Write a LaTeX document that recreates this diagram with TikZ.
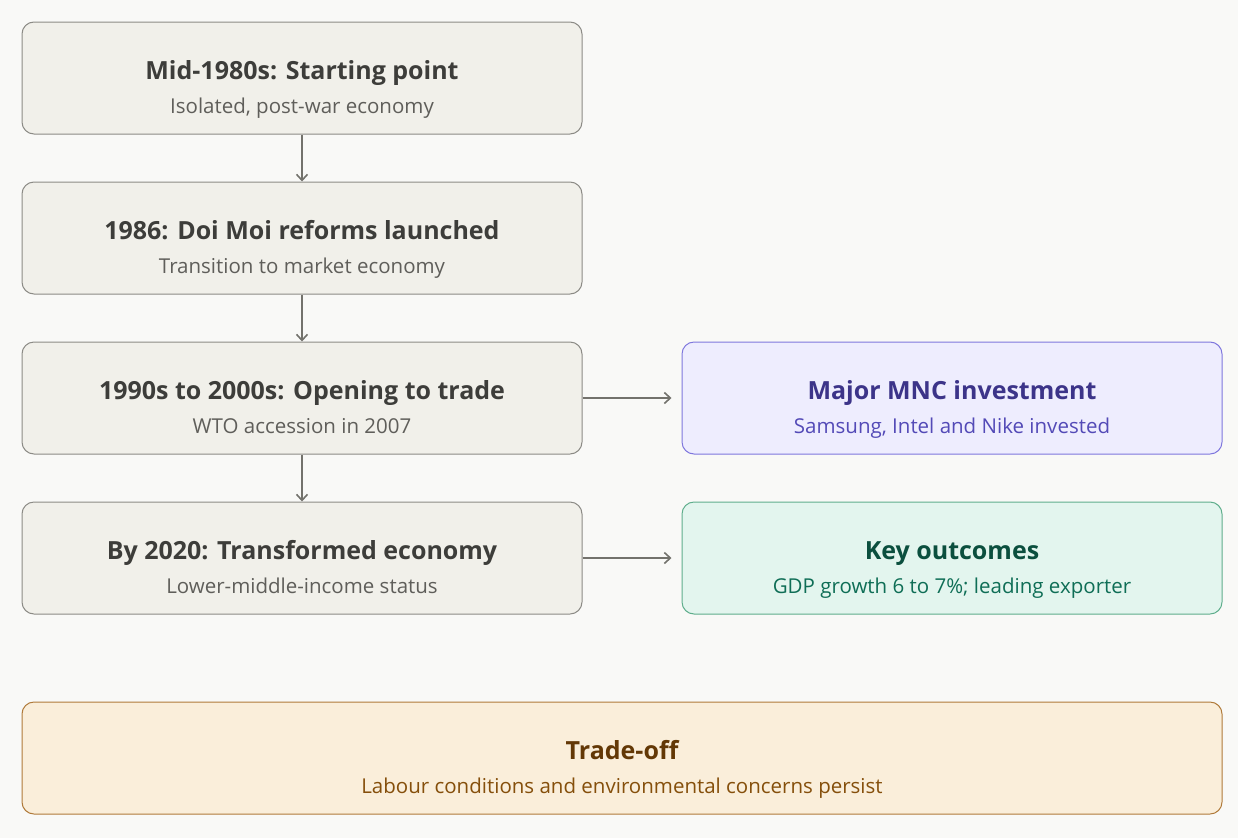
\documentclass[tikz,border=0pt]{standalone}
\usepackage{fontspec}
\setmainfont{Open Sans}
\usetikzlibrary{arrows.meta}
\definecolor{bg}{HTML}{F9F9F7}
\definecolor{gfill}{HTML}{F1F0EA}
\definecolor{gline}{HTML}{8C8B86}
\definecolor{gtit}{HTML}{3D3D3A}
\definecolor{gsub}{HTML}{5F5E5A}
\definecolor{pfill}{HTML}{EEEDFE}
\definecolor{pline}{HTML}{7F77DD}
\definecolor{ptit}{HTML}{3C3489}
\definecolor{psub}{HTML}{534AB7}
\definecolor{tfill}{HTML}{E3F5EE}
\definecolor{tline}{HTML}{5FAE8C}
\definecolor{ttit}{HTML}{0B4F3E}
\definecolor{tsub}{HTML}{0F6E56}
\definecolor{afill}{HTML}{FAEEDA}
\definecolor{aline}{HTML}{B07A3A}
\definecolor{atit}{HTML}{633806}
\definecolor{asub}{HTML}{854F0B}
\definecolor{arr}{HTML}{73726C}
\tikzset{
  box/.style={draw=gline,fill=gfill,line width=1pt,rounded corners=12pt,minimum height=112pt,inner sep=0pt},
  tit/.style={anchor=base,inner sep=0pt,font=\fontsize{25}{30}\selectfont\bfseries},
  sub/.style={anchor=base,inner sep=0pt,font=\fontsize{20.5}{24}\selectfont},
  conn/.style={draw=arr,line width=1.6pt,-{Straight Barb[length=6pt,width=11pt]}},
}
\newcommand{\bx}[6]{%
  \node[tit,text=#3] (#1t) at ([yshift=-1pt]#1.center) {#5};
  \node[sub,text=#4] (#1s) at ([yshift=-35pt]#1.center) {#6};}
\begin{document}
\begin{tikzpicture}[x=1pt,y=-1pt]
\fill[bg] (0,0) rectangle (1238,838);
\useasboundingbox (0,0) rectangle (1238,838);
\node[box,minimum width=560pt] (a) at (302,78) {};
\node[box,minimum width=560pt] (b) at (302,238) {};
\node[box,minimum width=560pt] (c) at (302,398) {};
\node[box,minimum width=560pt] (d) at (302,558) {};
\node[box,minimum width=540pt,draw=pline,fill=pfill] (e) at (952,398) {};
\node[box,minimum width=540pt,draw=tline,fill=tfill] (f) at (952,558) {};
\node[box,minimum width=1200pt,draw=aline,fill=afill] (g) at (622,758) {};
\bx{a}{}{gtit}{gsub}{Mid-1980s: Starting point}{Isolated, post-war economy}
\bx{b}{}{gtit}{gsub}{1986: Doi Moi reforms launched}{Transition to market economy}
\bx{c}{}{gtit}{gsub}{1990s to 2000s: Opening to trade}{WTO accession in 2007}
\bx{d}{}{gtit}{gsub}{By 2020: Transformed economy}{Lower-middle-income status}
\bx{e}{}{ptit}{psub}{Major MNC investment}{Samsung, Intel and Nike invested}
\bx{f}{}{ttit}{tsub}{Key outcomes}{GDP growth 6 to 7\%; leading exporter}
\bx{g}{}{atit}{asub}{Trade-off}{Labour conditions and environmental concerns persist}
\draw[conn] (a) -- (b);
\draw[conn] (b) -- (c);
\draw[conn] (c) -- (d);
\draw[conn] (c.east) -- ([xshift=-10pt]e.west);
\draw[conn] (d.east) -- ([xshift=-10pt]f.west);
\end{tikzpicture}
\end{document}
